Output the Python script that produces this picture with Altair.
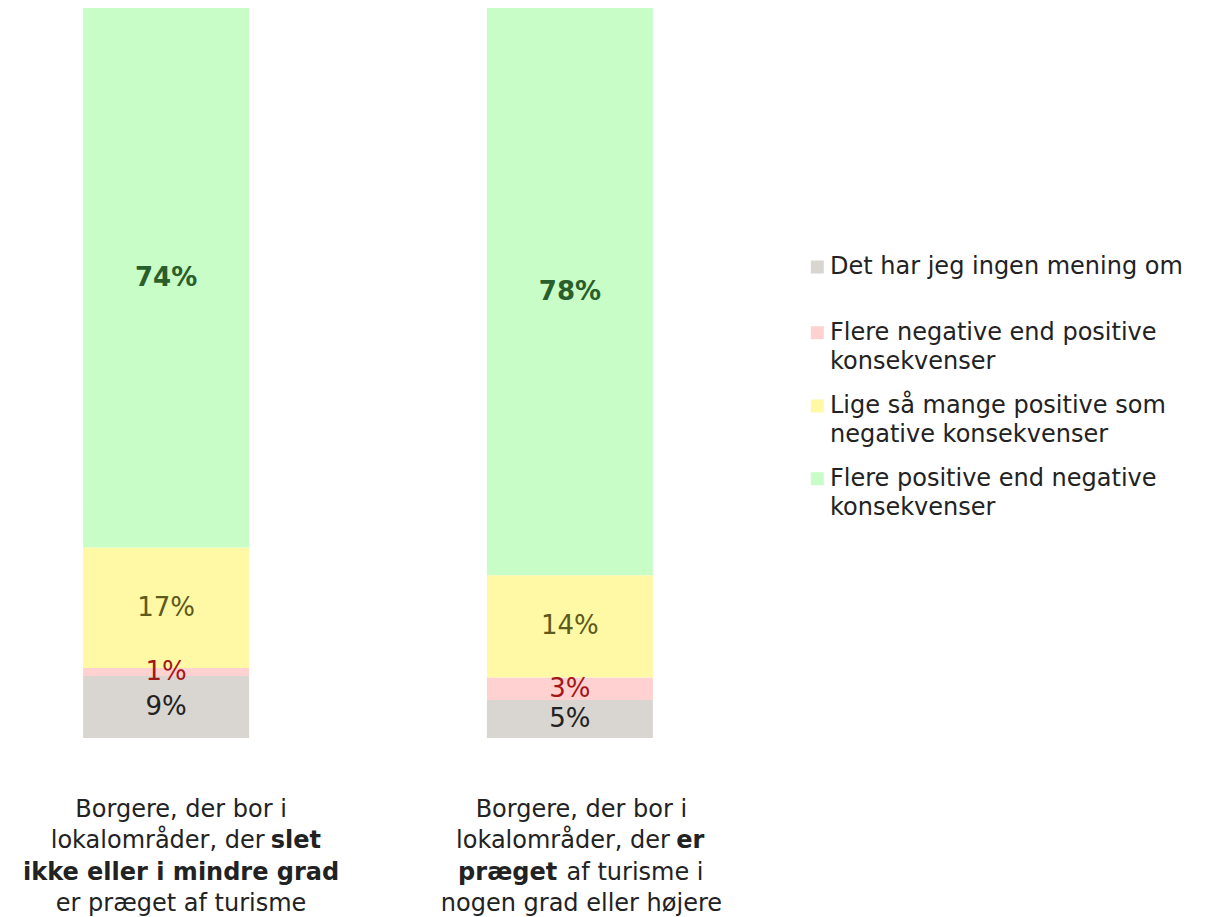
import altair as alt
import pandas as pd

FONT = "DejaVu Sans"

# ---- data -----------------------------------------------------------
GROUPS = ["slet ikke / mindre grad", "i nogen grad eller højere"]
SERIES = [
    "Det har jeg ingen mening om",
    "Flere negative end positive konsekvenser",
    "Lige så mange positive som negative konsekvenser",
    "Flere positive end negative konsekvenser",
]
VALUES_G1 = [8.5, 1.1, 16.5, 73.9]
VALUES_G2 = [5.2, 3.1, 14.0, 77.7]
LABELS_G1 = ["9%", "1%", "17%", "74%"]
LABELS_G2 = ["5%", "3%", "14%", "78%"]

LEGEND_TEXT = [
    "Det har jeg ingen mening om",
    "Flere negative end positive\nkonsekvenser",
    "Lige så mange positive som\nnegative konsekvenser",
    "Flere positive end negative\nkonsekvenser",
]

# axis-label lines: list of fragments (text, bold)
XLABEL_G1 = [
    [("Borgere, der bor i", False)],
    [("lokalområder, der", False), ("slet", True)],
    [("ikke eller i mindre grad", True)],
    [("er præget af turisme", False)],
]
XLABEL_G2 = [
    [("Borgere, der bor i", False)],
    [("lokalområder, der", False), ("er", True)],
    [("præget", True), ("af turisme i", False)],
    [("nogen grad eller højere", False)],
]

# ---- styles / layout -------------------------------------------------
BAR_COLORS = ["#d9d6d2", "#ffd1d1", "#fff9a6", "#c8fdc8"]
LABEL_COLORS = ["#222222", "#a3161a", "#5c5a1c", "#2a5e2a"]
TEXT_COLOR = "#222222"
TEXT_SIZE = 24

rows = []
for g, vals, labs in [(GROUPS[0], VALUES_G1, LABELS_G1), (GROUPS[1], VALUES_G2, LABELS_G2)]:
    for i, (s, v, l) in enumerate(zip(SERIES, vals, labs)):
        rows.append({"group": g, "series": s, "order": i, "value": v, "label": l})
df = pd.DataFrame(rows)

x_scale = alt.Scale(domain=GROUPS, range=[0, 720], paddingInner=0.589, paddingOuter=0.186)
y_scale = alt.Scale(domain=[0, 100], range=[730, 0], nice=False)

bars = alt.Chart(df).mark_bar().encode(
    x=alt.X("group:N", scale=x_scale, axis=None),
    y=alt.Y("value:Q", stack="zero", scale=y_scale, axis=None),
    color=alt.Color("series:N", scale=alt.Scale(domain=SERIES, range=BAR_COLORS), legend=None),
    order=alt.Order("order:Q"),
)

stacked = alt.Chart(df).transform_stack(
    stack="value", as_=["v0", "v1"], groupby=["group"], sort=[alt.SortField("order")]
).transform_calculate(mid="(datum.v0 + datum.v1) / 2")

def value_labels(bold):
    flt = "datum.order == 3" if bold else "datum.order != 3"
    return stacked.transform_filter(flt).mark_text(
        font=FONT, fontSize=26, fontWeight="bold" if bold else "normal", baseline="middle"
    ).encode(
        x=alt.X("group:N", scale=x_scale, axis=None),
        y=alt.Y("mid:Q", scale=y_scale, axis=None),
        text="label:N",
        color=alt.Color("series:N", scale=alt.Scale(domain=SERIES, range=LABEL_COLORS), legend=None),
    )

# x-axis labels (custom, mixed weight)
BASELINES = [808.5, 840, 871.5, 903]
CENTER_DX = [15, 11.5]
SPLIT_DX = {  # (group index, line) -> (right edge of first fragment, left edge of second)
    (0, 1): (98.5, 104.7),
    (1, 1): (100, 106.3),
    (1, 2): (-12.7, -3.3),
}

xlabel_layers = []
for gi, lines in enumerate([XLABEL_G1, XLABEL_G2]):
    for li, frags in enumerate(lines):
        for fi, (txt, bold) in enumerate(frags):
            if len(frags) == 1:
                align, dx = "center", CENTER_DX[gi]
            else:
                r, l = SPLIT_DX[(gi, li)]
                align, dx = ("right", r) if fi == 0 else ("left", l)
            d = pd.DataFrame({"group": [GROUPS[gi]], "t": [txt]})
            xlabel_layers.append(
                alt.Chart(d).mark_text(
                    font=FONT, fontSize=TEXT_SIZE, fontWeight="bold" if bold else "normal",
                    align=align, dx=dx, baseline="alphabetic", color=TEXT_COLOR,
                ).encode(
                    x=alt.X("group:N", scale=x_scale, axis=None),
                    y=alt.value(BASELINES[li]),
                    text="t:N",
                )
            )

# custom legend
LEGEND_BASE = [266.3, 332, 405.3, 478]
legend_layers = []
for i, (s, t) in enumerate(zip(SERIES, LEGEND_TEXT)):
    d = pd.DataFrame({"series": [s], "t": [t]})
    legend_layers.append(
        alt.Chart(d).mark_square(size=169, opacity=1, color=BAR_COLORS[i]).encode(
            x=alt.value(809.3), y=alt.value(LEGEND_BASE[i] - 7.3)
        )
    )
    legend_layers.append(
        alt.Chart(d).mark_text(
            font=FONT, fontSize=TEXT_SIZE, align="left", baseline="alphabetic",
            lineBreak="\n", lineHeight=28.5, color=TEXT_COLOR,
        ).encode(x=alt.value(822), y=alt.value(LEGEND_BASE[i]), text="t:N")
    )

chart = alt.layer(
    bars, value_labels(False), value_labels(True), *xlabel_layers, *legend_layers
).resolve_scale(color="independent").properties(
    width=1196, height=909, padding=0, autosize=alt.AutoSizeParams(type="none"),
    background="white",
).configure_view(stroke=None)

chart.save("out.html", embed_options={"renderer": "svg", "actions": False})
